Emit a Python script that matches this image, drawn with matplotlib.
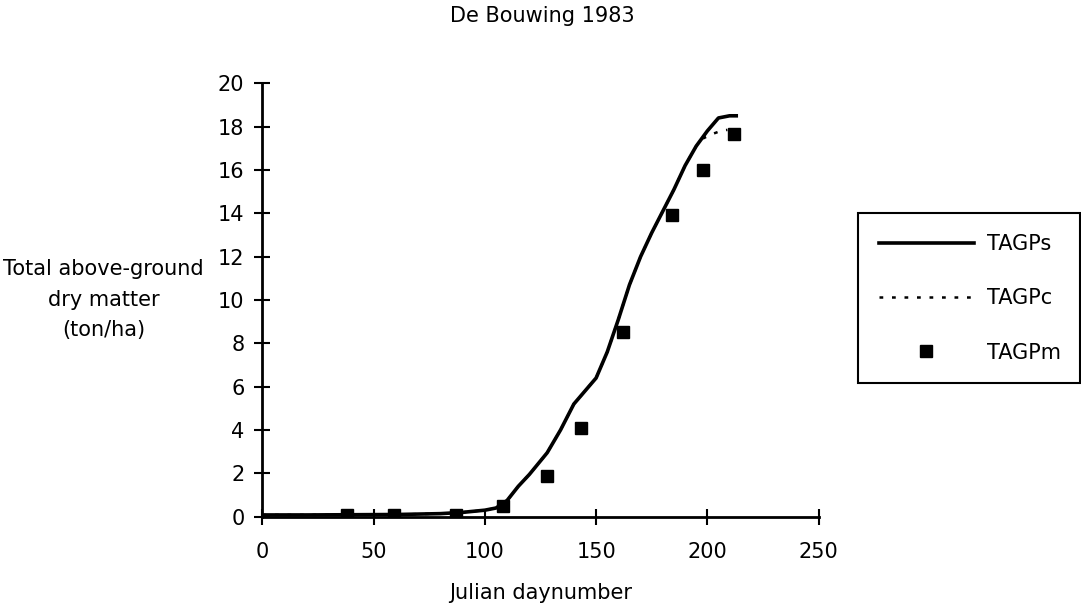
import numpy as np
import matplotlib
matplotlib.use("Agg")
import matplotlib.pyplot as plt

plt.rcParams['font.family'] = ['DejaVu Sans']

# simulated total above-ground dry matter (TAGPs)
sim_day = [0, 20, 40, 60, 80, 90, 100, 105, 110, 115, 120, 128, 134, 140, 145,
           150, 155, 160, 165, 170, 175, 180, 185, 190, 195, 200, 205, 210, 213]
sim_tagp = [0.08, 0.08, 0.09, 0.1, 0.14, 0.2, 0.3, 0.4, 0.75, 1.4, 1.95, 2.95, 4.0, 5.2, 5.8,
            6.4, 7.6, 9.1, 10.7, 12.0, 13.1, 14.1, 15.1, 16.2, 17.1, 17.8, 18.4, 18.5, 18.5]

# calibrated run (TAGPc), only differs at the end
cal_day = [0, 20, 40, 60, 80, 90, 100, 105, 110, 115, 120, 128, 134, 140, 145,
           150, 155, 160, 165, 170, 175, 180, 185, 190, 195, 198, 202, 206, 209]
cal_tagp = [0.08, 0.08, 0.09, 0.1, 0.14, 0.2, 0.3, 0.4, 0.75, 1.4, 1.95, 2.95, 4.0, 5.2, 5.8,
            6.4, 7.6, 9.1, 10.7, 12.0, 13.1, 14.1, 15.1, 16.2, 17.1, 17.45, 17.65, 17.8, 17.85]

# measured
obs_day = [38, 59, 87, 108, 128, 143, 162, 184, 198, 212]
obs_tagp = [0.1, 0.1, 0.1, 0.5, 1.9, 4.1, 8.5, 13.9, 16.0, 17.65]

fs = 15

fig = plt.figure(figsize=(10.81, 6.08), dpi=100)
ax = fig.add_axes([0.2428, 0.1502, 0.5144, 0.7128])

ax.plot(cal_day, cal_tagp, color='black', lw=1.8, linestyle=(0, (1.5, 3.5)), label='TAGPc')
ax.plot(sim_day, sim_tagp, color='black', lw=2.6, label='TAGPs')
ax.plot(obs_day, obs_tagp, 's', color='black', ms=8.5, label='TAGPm', linestyle='none')

ax.set_xlim(0, 250)
ax.set_ylim(0, 20)
ax.set_xticks(np.arange(0, 251, 50))
ax.set_yticks(np.arange(0, 21, 2))
for s in ['top', 'right']:
    ax.spines[s].set_visible(False)
for s in ['left', 'bottom']:
    ax.spines[s].set_linewidth(2)
ax.tick_params(direction='inout', length=12, width=1.5, labelsize=fs)
ax.tick_params(axis='x', pad=12)
ax.tick_params(axis='y', pad=7)

ax.set_xlabel('Julian daynumber', fontsize=fs, va='center')
ax.xaxis.set_label_coords(0.5, -0.176)
fig.text(0.096, 0.507, 'Total above-ground\ndry matter\n(ton/ha)', ha='center', va='center',
         fontsize=fs, linespacing=1.65)
fig.text(0.502, 0.974, 'De Bouwing 1983', ha='center', va='center', fontsize=fs)

h, l = ax.get_legend_handles_labels()
order = [1, 0, 2]
leg = fig.legend([h[i] for i in order], [l[i] for i in order],
                 loc='upper left', bbox_to_anchor=(0.7937, 0.3684, 0.2054, 0.2812),
                 mode='expand', borderaxespad=0, framealpha=1,
                 fontsize=fs, frameon=True, fancybox=False, edgecolor='black',
                 handlelength=4.57, labelspacing=1.65, borderpad=1.0, handletextpad=0.62)
leg.get_frame().set_linewidth(1.5)

fig.savefig('out.png', dpi=100)
